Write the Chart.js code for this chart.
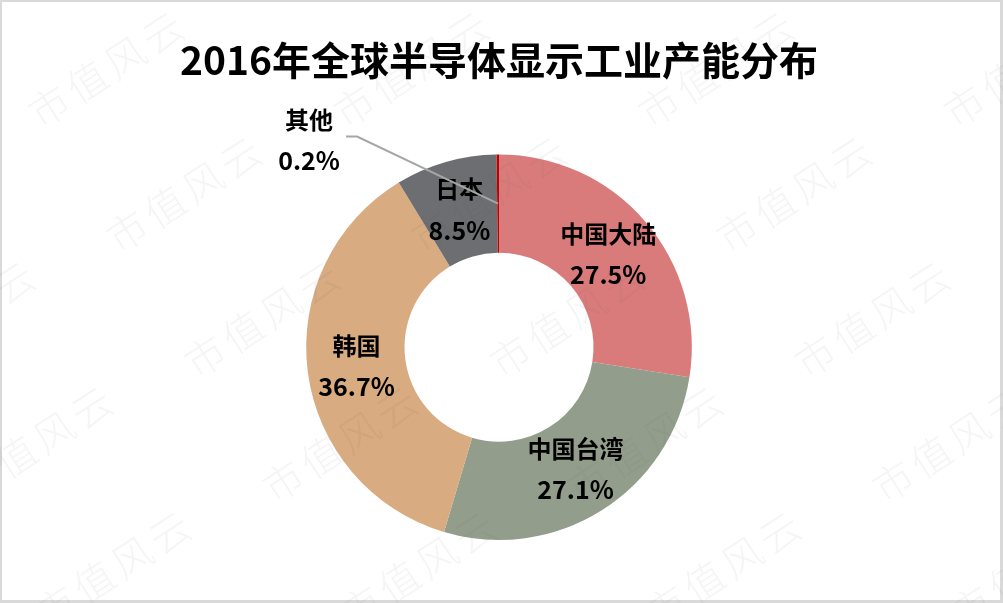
<!DOCTYPE html>
<html>
<head>
<meta charset="utf-8">
<script src="https://cdn.jsdelivr.net/npm/chart.js@4.4.1/dist/chart.umd.min.js"></script>
<style>
  html, body { margin: 0; background: #fff; }
  #wrap { width: 1003px; height: 603px; }
</style>
</head>
<body>
<div id="wrap"><canvas id="chart"></canvas></div>
<script>
const regions = ['中国大陆', '中国台湾', '韩国', '日本', '其他'];
const shares = [27.5, 27.1, 36.7, 8.5, 0.2];
const sliceColors = ['#D97B7B', '#929E8B', '#D8AB80', '#6D6E72', '#C00000'];

const FONT = '"Noto Sans CJK SC", "Noto Sans", sans-serif';

// white background + grey frame
const frame = {
  id: 'frame',
  beforeDraw(chart) {
    const { ctx, width, height } = chart;
    ctx.save();
    ctx.fillStyle = '#fff';
    ctx.fillRect(0, 0, width, height);
    ctx.restore();
  },
  afterDraw(chart) {
    const { ctx, width, height } = chart;
    ctx.save();
    ctx.fillStyle = '#D9D9D9';
    ctx.fillRect(0, 0, width, 2);
    ctx.fillRect(0, 0, 2, height);
    ctx.fillRect(width - 3, 0, 3, height);
    ctx.fillRect(0, height - 3, width, 3);
    ctx.restore();
  }
};

// name + percentage inside each slice, callout for the tiny one
const sliceLabels = {
  id: 'sliceLabels',
  afterDatasetsDraw(chart) {
    const { ctx } = chart;
    const arcs = chart.getDatasetMeta(0).data;
    ctx.save();
    ctx.textAlign = 'center';
    ctx.textBaseline = 'middle';
    arcs.forEach((arc, i) => {
      let { x, y } = arc.tooltipPosition();
      if (i === 4) {
        const ex = x - 141, ey = y - 67;
        ctx.strokeStyle = '#A6A6A6';
        ctx.lineWidth = 2;
        ctx.beginPath();
        ctx.moveTo(x, y);
        ctx.lineTo(ex, ey);
        ctx.lineTo(ex - 11, ey);
        ctx.stroke();
        x = ex - 48;
        y = ey + 3;
      }
      ctx.fillStyle = '#000';
      ctx.font = 'bold 24px ' + FONT;
      ctx.fillText(regions[i], x, y - 20);
      ctx.font = 'bold 25px ' + FONT;
      ctx.fillText(shares[i].toFixed(1) + '%', x, y + 21);
    });
    ctx.restore();
  }
};

// faint tiled watermark
const watermark = {
  id: 'watermark',
  afterDraw(chart) {
    const { ctx } = chart;
    ctx.save();
    ctx.font = '300 40px ' + FONT;
    ctx.letterSpacing = '5px';
    ctx.fillStyle = 'rgba(90,90,90,0.06)';
    ctx.textAlign = 'center';
    ctx.textBaseline = 'middle';
    for (let j = 0; j < 5; j++) {
      for (let i = -1; i < 4; i++) {
        ctx.save();
        ctx.translate(108 + 78 * j + 305 * i, 68 + 125 * j);
        ctx.rotate(-33 * Math.PI / 180);
        ctx.fillText('市值风云', 0, 0);
        ctx.restore();
      }
    }
    ctx.restore();
  }
};

new Chart(document.getElementById('chart'), {
  type: 'doughnut',
  data: {
    labels: regions,
    datasets: [{
      data: shares,
      backgroundColor: sliceColors,
      borderWidth: 0
    }]
  },
  options: {
    responsive: true,
    maintainAspectRatio: false,
    animation: false,
    cutout: '49%',
    layout: { padding: { left: 0, right: 5, top: 0, bottom: 63 } },
    plugins: {
      legend: { display: false },
      tooltip: { enabled: false },
      title: {
        display: true,
        text: '2016年全球半导体显示工业产能分布',
        color: '#000',
        font: { family: FONT, size: 39, weight: 'bold', lineHeight: 1.2 },
        padding: { top: 36.6, bottom: 71 }
      }
    }
  },
  plugins: [frame, sliceLabels, watermark]
});
</script>
</body>
</html>
